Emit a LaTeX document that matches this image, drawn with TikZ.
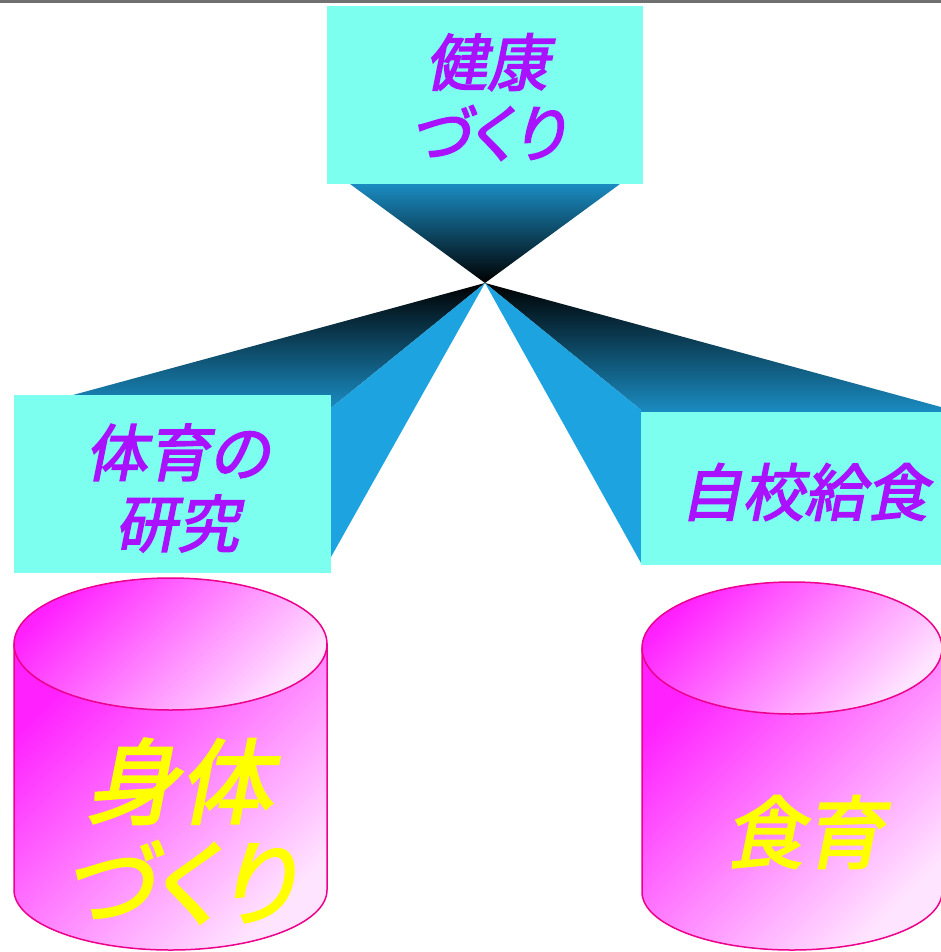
\documentclass[tikz,border=0pt]{standalone}
\usepackage{fontspec}
\newfontfamily\jpfont[FakeSlant=0.2,FakeBold=2.5,RawFeature=+palt]{Noto Sans CJK JP}
\usetikzlibrary{positioning}
\definecolor{cyanclair}{RGB}{124,255,238}
\definecolor{mauve}{RGB}{170,17,255}
\definecolor{bleu}{RGB}{28,163,224}
\definecolor{bleufonce}{RGB}{26,140,194}
\definecolor{rose}{RGB}{255,34,255}
\definecolor{rosepale}{RGB}{255,228,255}
\definecolor{jaune}{RGB}{255,255,0}
\definecolor{gristrait}{RGB}{112,112,112}

\begin{document}
\begin{tikzpicture}[x=1pt,y=-1pt]
		\tikzstyle{boite}=[fill=cyanclair]
		\tikzstyle{texte}=[text=mauve,align=center,font=\jpfont\fontsize{62}{71}\selectfont]
		\tikzstyle{grand}=[text=jaune,align=center]
		\tikzstyle{cylindre}=[draw=magenta,line width=1.5pt,top color=rose,bottom color=rosepale,shading angle=45]
                \useasboundingbox (0,0) rectangle (941,952);
                \fill[white] (0,0) rectangle (941,952);
                \fill[gristrait] (0,0) rectangle (941,3);
                \shade[top color=bleufonce,bottom color=black] (350,184)
                -- (620,184) -- (485,283) -- cycle; \shade[top
                color=black,bottom color=bleufonce] (485,283) --
                (73,395) -- (331,395) -- (331,408) -- cycle;
                \fill[bleu] (485,283) -- (331,408) -- (331,557) --
                cycle; \shade[top color=black,bottom color=bleufonce]
                (485,283) -- (941,407) -- (941,412) -- (641,412) --
                (641,410) -- cycle; \fill[bleu] (485,283) -- (641,410)
                -- (641,563) -- cycle;
                \fill[boite] (327,6) rectangle (643,184); \fill[boite]
                (14,395) rectangle (331,573); \fill[boite] (641,412)
                rectangle (941,565);
                \draw[cylindre] (14,644) -- (14,890) arc[start
                angle=180,end angle=0,x radius=156.5,y radius=60] --
                (327,644) -- cycle; \draw[cylindre] (170.5,644)
                ellipse[x radius=156.5,y radius=66]; \draw[cylindre]
                (642,648) -- (642,892) arc[start angle=180,end
                angle=0,x radius=150,y radius=58] -- (942,648) --
                cycle; \draw[cylindre] (792,648) ellipse[x
                radius=150,y radius=66];
                \node[texte] (kenko) at (487,97) {健康\\づくり};
                \node[texte] (taiiku) at (177,488) {体育の\\研究};
                \node[texte] (kyushoku) at (804,492) {自校給食};
                \node[texte,grand,font=\jpfont\fontsize{93}{101}\selectfont]
                (karada) at (179,831) {身体\\づくり};
                \node[texte,grand,font=\jpfont\fontsize{79}{90}\selectfont]
                (shokuiku) at (804,832) {食育};
	\end{tikzpicture}
\end{document}
